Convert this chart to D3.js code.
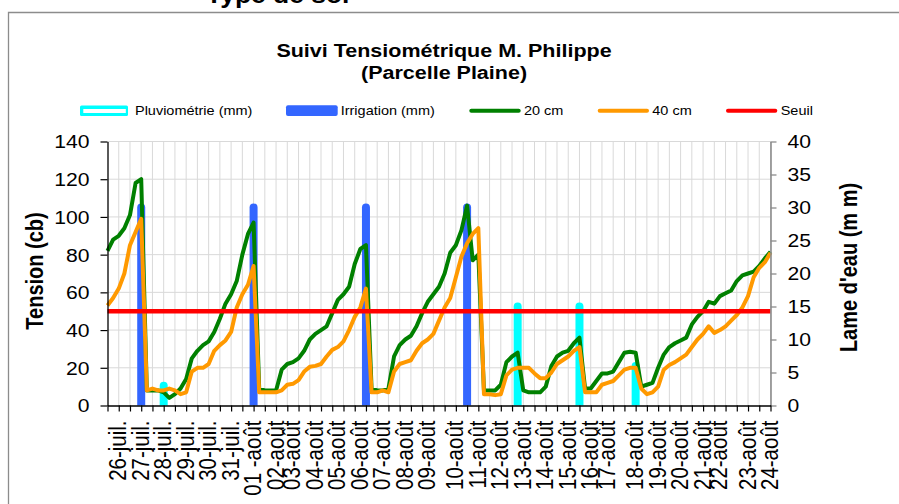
<!DOCTYPE html>
<html><head><meta charset="utf-8">
<script src="https://cdn.jsdelivr.net/npm/d3@7"></script>
<style>
body{margin:0;background:#fff}
svg{display:block}
text{font-family:"Liberation Sans",Arial,Helvetica,sans-serif;fill:#000}
</style>
</head><body>
<svg id="c" width="899" height="504"></svg>
<script>
// ---------- DATA ----------
const dayLabels = ["26-juil.","27-juil.","28-juil.","29-juil.","30-juil.","31-juil.",
  "01 -août","02-août","03-août","04-août","05-août","06-août","07-août","08-août","09-août",
  "10-août","11-août","12-août","13-août","14-août","15-août","16-août","17-août","18-août",
  "19-août","20-août","21-août","22-août","23-août","24-août"];
// reading index at which each day's label appears
const dayStart = [2,6,10,14,18,22,26,30,33,37,41,45,49,53,57,62,66,70,74,78,82,86,89,94,98,102,106,109,114,118];

const tension20 = [82,88,90,94,101,118,120,8,8,8,7,4,6,9,14,25,29,32,34,39,46,54,59,66,80,91,97,9,8,8,
  8,19,22,23,25,29,35,38,40,42,49,56,59,63,75,83,85,9,8,8,9,26,32,35,37,42,49,55,59,63,
  70,81,85,93,106,77,80,8,8,8,11,23,26,28,8,7,7,7,10,21,26,28,29,33,36,9,9,13,17,17,
  18,23,28,28.5,28,10,11,12,20,27,31,33,34.5,36,43,47,50,55,54,58,59.5,61,66,69,70,71,74,78,81.5];
const tension40 = [53,57,62,70,85,92,99,8,9,8,8,9,8,6,7,18,20,20,22,29,32,34.5,39,52,59,64,74,7,7,7,
  7,8,11,11.5,13.5,18,20.5,21,22,26,29.5,31,34,40,47,52,62,7,7,8,7,18,22,23,24,29,33,35,38,45,
  52,57,68,79,86,91,94,6,6,5.5,6,16,19,20,20,20,17,14.5,14.5,17.5,22,24,26,29,31,7,7,7,11,12,
  13,16,19,20,20,9,6,7,10,19,21.5,23,25,27,31,35,38,42,38.5,40,42,45,48,52,58,68,73,76,81];
const irrigation = [{i:6,mm:30},{i:26,mm:30},{i:46,mm:30},{i:64,mm:30}];
const pluviometrie = [{i:10,mm:3},{i:73,mm:15},{i:84,mm:15},{i:94,mm:6}];
const seuil = 50;
const leftTicks = [0,20,40,60,80,100,120,140];
const rightTicks = [0,5,10,15,20,25,30,35,40];

const N = tension20.length;
const categories = d3.range(N).map(i => { const k = dayStart.indexOf(i); return k >= 0 ? dayLabels[k] : ""; });

// ---------- LAYOUT ----------
const SX = 1.15; // horizontal text stretch
const FONT = '"Liberation Sans",Arial,Helvetica,sans-serif';
const X0 = 107.5, X1 = 770.5, YT = 141.5, YB = 405.5;
const C = {green:"#008000", orange:"#ff9900", red:"#ff0000", blue:"#3366ff", cyan:"#00ffff", grid:"#d9d9d9"};

const svg = d3.select("#c");
const x = d3.scalePoint().domain(d3.range(N)).range([X0, X1]);
const yL = d3.scaleLinear().domain([0,140]).range([YB, YT]);
const yR = d3.scaleLinear().domain([0,40]).range([YB, YT]);

function txt(g, px, py, s, o) {
  o = o || {};
  let tr = `translate(${px},${py}) scale(${SX},1)` + (o.rot ? ` rotate(${o.rot})` : "");
  return g.append("text").attr("transform", tr)
    .attr("font-size", o.size || 12).attr("font-weight", o.bold ? "bold" : "normal")
    .attr("text-anchor", o.anchor || "start").attr("dy", o.dy || 0).text(s);
}

// heading of the page above the chart (cut off by the frame of the picture)
txt(svg, 206, 3, "Type de sol", {size:23, bold:true});

// outer frame
svg.append("path").attr("d", `M8.5,504V12.5H899`).attr("fill","none").attr("stroke","#8c8c8c").attr("stroke-width",1.3);

// title
txt(svg, 444, 56.5, "Suivi Tensiométrique M. Philippe", {size:18.7, bold:true, anchor:"middle"});
txt(svg, 444, 78.5, "(Parcelle Plaine)", {size:18.7, bold:true, anchor:"middle"});

// gridlines
const grid = svg.append("g");
grid.selectAll("line.h").data(leftTicks.slice(1)).join("line")
  .attr("x1", X0).attr("x2", X1).attr("y1", d => yL(d)).attr("y2", d => yL(d))
  .attr("stroke", C.grid).attr("stroke-width", 1);
const tickIdx = d3.range(0, N, 2);
grid.selectAll("line.v").data(tickIdx.slice(1)).join("line")
  .attr("x1", d => x(d)).attr("x2", d => x(d)).attr("y1", YT).attr("y2", YB)
  .attr("stroke", C.grid).attr("stroke-width", 1);

// clip for bars
svg.append("clipPath").attr("id","clip").append("rect").attr("x",0).attr("y",0).attr("width",899).attr("height",YB);

const plot = svg.append("g").attr("clip-path","url(#clip)");
// bars (thick lines with round tops)
plot.selectAll("line.irr").data(irrigation).join("line")
  .attr("x1", d => x(d.i)).attr("x2", d => x(d.i)).attr("y1", YB + 6).attr("y2", d => yR(d.mm))
  .attr("stroke", C.blue).attr("stroke-width", 8).attr("stroke-linecap","round");
plot.selectAll("line.plu").data(pluviometrie).join("line")
  .attr("x1", d => x(d.i)).attr("x2", d => x(d.i)).attr("y1", YB + 6).attr("y2", d => yR(d.mm))
  .attr("stroke", C.cyan).attr("stroke-width", 8).attr("stroke-linecap","round");

// tension lines
const line = d3.line().x((d,i) => x(i)).y(d => yL(d));
plot.append("path").datum(tension20).attr("d", line).attr("fill","none")
  .attr("stroke", C.green).attr("stroke-width", 4).attr("stroke-linejoin","round");
plot.append("path").datum(tension40).attr("d", line).attr("fill","none")
  .attr("stroke", C.orange).attr("stroke-width", 4).attr("stroke-linejoin","round");
// seuil
plot.append("line").attr("x1", X0).attr("x2", X1).attr("y1", yL(seuil)).attr("y2", yL(seuil))
  .attr("stroke", C.red).attr("stroke-width", 4.5);

// left axis
const gL = svg.append("g").attr("transform", `translate(${X0},0)`)
  .call(d3.axisLeft(yL).tickValues(leftTicks).tickSize(7).tickSizeOuter(0).tickPadding(0));
gL.select(".domain").attr("stroke","#000").attr("stroke-width",1.3);
gL.selectAll(".tick line").attr("stroke","#000").attr("stroke-width",1.2);
gL.selectAll(".tick text").attr("x", null).attr("dy", null).attr("font-family", FONT).attr("font-size", 18.4)
  .attr("transform", `translate(-18,0) scale(${SX},1)`).attr("dy","0.35em");

// right axis
const gR = svg.append("g").attr("transform", `translate(${X1},0)`)
  .call(d3.axisRight(yR).tickValues(rightTicks).tickSize(6).tickSizeOuter(0).tickPadding(0));
gR.select(".domain").attr("stroke","#8c8c8c").attr("stroke-width",1.6);
gR.selectAll(".tick line").attr("stroke","#8c8c8c").attr("stroke-width",1.3);
gR.selectAll(".tick text").attr("x", null).attr("dy", null).attr("font-family", FONT).attr("font-size", 18.4)
  .attr("transform", `translate(17,0) scale(${SX},1)`).attr("dy","0.35em");

// bottom axis: ticks
const gB = svg.append("g").attr("transform", `translate(0,${YB})`)
  .call(d3.axisBottom(x).tickValues(tickIdx).tickSize(6).tickSizeOuter(0).tickFormat(""));
gB.select(".domain").attr("stroke","#000").attr("stroke-width",1.3);
gB.selectAll(".tick line").attr("stroke","#000").attr("stroke-width",1.2);
// bottom axis: day labels
const labIdx = d3.range(N).filter(i => categories[i] !== "");
const gBL = svg.append("g").attr("transform", `translate(0,${YB})`)
  .call(d3.axisBottom(x).tickValues(labIdx).tickSize(0).tickFormat(i => categories[i]));
gBL.select(".domain").remove();
gBL.selectAll(".tick text").attr("y", null).attr("dy", null).attr("font-family", FONT).attr("font-size", 20.5)
  .attr("text-anchor","end").attr("transform", `translate(-1.5,15) scale(${SX},1) rotate(-90)`).attr("dy","0.36em");

// axis titles
txt(svg, 34.7, 271, "Tension (cb)", {size:20, bold:true, anchor:"middle", rot:-90, dy:"0.36em"});
txt(svg, 849, 267.5, "Lame d'eau (m m)", {size:20, bold:true, anchor:"middle", rot:-90, dy:"0.36em"});

// legend
const lg = svg.append("g");
lg.append("rect").attr("x",80).attr("y",105.5).attr("width",48).attr("height",10.5).attr("rx",1.5).attr("fill",C.cyan);
lg.append("rect").attr("x",83.3).attr("y",109).attr("width",42.5).attr("height",4).attr("fill","#fff");
txt(lg, 135, 115, "Pluviométrie (mm)", {size:12.6});
lg.append("rect").attr("x",286).attr("y",105.3).attr("width",51.7).attr("height",10.7).attr("rx",2).attr("fill",C.blue);
txt(lg, 340.7, 115, "Irrigation (mm)", {size:12.6});
const lineLeg = [
  {x1:469.3, x2:520.7, c:C.green, t:"20 cm", tx:524},
  {x1:597.7, x2:649, c:C.orange, t:"40 cm", tx:652.3},
  {x1:726, x2:777.3, c:C.red, t:"Seuil", tx:780.7}];
lineLeg.forEach(d => {
  lg.append("line").attr("x1",d.x1+2).attr("x2",d.x2-2).attr("y1",110.7).attr("y2",110.7)
    .attr("stroke",d.c).attr("stroke-width",4).attr("stroke-linecap","round");
  txt(lg, d.tx, 115, d.t, {size:12.6});
});
</script>
</body></html>
